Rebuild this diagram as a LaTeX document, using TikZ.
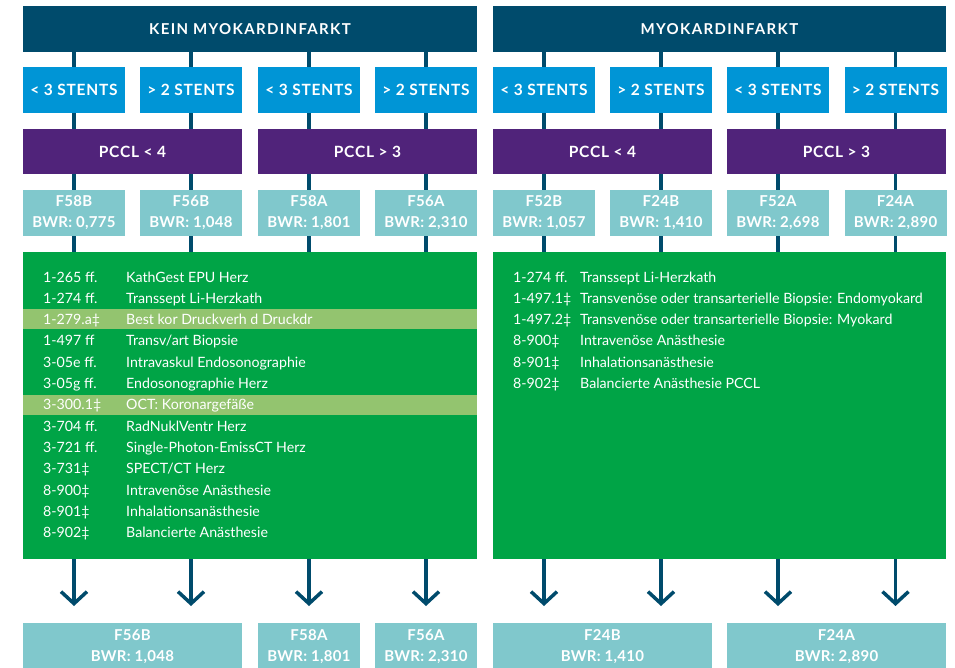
\documentclass[tikz,border=0pt]{standalone}
\usepackage{fontspec}
\setmainfont{Lato}
\usetikzlibrary{arrows.meta}
\definecolor{hdr}{HTML}{004B6C}
\definecolor{stent}{HTML}{0095D6}
\definecolor{pccl}{HTML}{50237A}
\definecolor{fbox}{HTML}{80C8CC}
\definecolor{grn}{HTML}{00A446}
\definecolor{hl}{HTML}{93C46F}
\pgfdeclarelayer{bg}
\pgfsetlayers{bg,main}
\tikzset{
  box/.style={inner sep=0pt, outer sep=0pt, text=white, align=center},
  hdrbox/.style={box, fill=hdr, minimum height=46pt, font=\fontsize{15}{17}\selectfont\bfseries\addfontfeature{LetterSpace=9}},
  stentbox/.style={box, fill=stent, minimum width=102pt, minimum height=46pt, font=\fontsize{15.5}{17}\selectfont\bfseries\addfontfeature{LetterSpace=5}},
  pcclbox/.style={box, fill=pccl, minimum width=219pt, minimum height=45pt, font=\fontsize{15.5}{17}\selectfont\bfseries\addfontfeature{LetterSpace=5}},
  fbx/.style={box, fill=fbox, minimum height=46pt, font=\fontsize{15}{21}\selectfont\bfseries\addfontfeature{LetterSpace=2}},
  panel/.style={box, fill=grn},
  band/.style={box, fill=hl, minimum height=20pt},
  code/.style={anchor=base west, inner sep=0pt, text=white, font=\fontsize{14.2}{16}\selectfont},
  conn/.style={draw=hdr, line width=3.5pt},
  arr/.style={conn, -{Straight Barb[length=12pt,width=26pt,line width=3.5pt]}}
}
\begin{document}
\begin{tikzpicture}[x=1pt,y=-1pt]
\useasboundingbox (0,0) rectangle (955,667);
% headers
\node[hdrbox, minimum width=454pt] (hL) at (250,29) {KEIN MYOKARDINFARKT};
\node[hdrbox, minimum width=453pt] (hR) at (719.5,29) {MYOKARDINFARKT};
% stents
\node[stentbox] (s1) at (74,90) {< 3 STENTS};
\node[stentbox] (s2) at (191,90) {> 2 STENTS};
\node[stentbox] (s3) at (309,90) {< 3 STENTS};
\node[stentbox] (s4) at (426,90) {> 2 STENTS};
\node[stentbox] (s5) at (544,90) {< 3 STENTS};
\node[stentbox] (s6) at (661,90) {> 2 STENTS};
\node[stentbox] (s7) at (778,90) {< 3 STENTS};
\node[stentbox] (s8) at (895.5,90) {> 2 STENTS};
% pccl
\node[pcclbox] (p1) at (132.5,151.5) {PCCL < 4};
\node[pcclbox] (p2) at (367.5,151.5) {PCCL > 3};
\node[pcclbox] (p3) at (602.5,151.5) {PCCL < 4};
\node[pcclbox] (p4) at (836.5,151.5) {PCCL > 3};
% F boxes
\node[fbx, minimum width=102pt] (f1) at (74,213) {F58B\\BWR: 0,775};
\node[fbx, minimum width=102pt] (f2) at (191,213) {F56B\\BWR: 1,048};
\node[fbx, minimum width=102pt] (f3) at (309,213) {F58A\\BWR: 1,801};
\node[fbx, minimum width=102pt] (f4) at (426,213) {F56A\\BWR: 2,310};
\node[fbx, minimum width=102pt] (f5) at (544,213) {F52B\\BWR: 1,057};
\node[fbx, minimum width=102pt] (f6) at (661,213) {F24B\\BWR: 1,410};
\node[fbx, minimum width=102pt] (f7) at (778,213) {F52A\\BWR: 2,698};
\node[fbx, minimum width=102pt] (f8) at (895.5,213) {F24A\\BWR: 2,890};
% green panels
\node[panel, minimum width=454pt, minimum height=307pt] (gL) at (250,405.5) {};
\node[panel, minimum width=453pt, minimum height=307pt] (gR) at (719.5,405.5) {};
\node[band, minimum width=454pt] (b1) at (250,319) {};
\node[band, minimum width=454pt] (b2) at (250,405) {};
% left list
\foreach \c/\d [count=\i from 0] in {
  1-265 ff./KathGest EPU Herz,
  1-274 ff./Transsept Li-Herzkath,
  1-279.a‡/Best kor Druckverh d Druckdr,
  1-497 ff/Transv{/}art Biopsie,
  3-05e ff./Intravaskul Endosonographie,
  3-05g ff./Endosonographie Herz,
  3-300.1‡/OCT: Koronargefäße,
  3-704 ff./RadNuklVentr Herz,
  3-721 ff./Single-Photon-EmissCT Herz,
  3-731‡/SPECT{/}CT Herz,
  8-900‡/Intravenöse Anästhesie,
  8-901‡/Inhalationsanästhesie,
  8-902‡/Balancierte Anästhesie}{
  \node[code] (lc\i) at (43,{282+21.33*\i}) {\c};
  \node[code] (ld\i) at (126,{282+21.33*\i}) {\d};
}
% right list
\foreach \c/\d [count=\i from 0] in {
  1-274 ff./Transsept Li-Herzkath,
  1-497.1‡/Transvenöse oder transarterielle Biopsie: Endomyokard,
  1-497.2‡/Transvenöse oder transarterielle Biopsie: Myokard,
  8-900‡/Intravenöse Anästhesie,
  8-901‡/Inhalationsanästhesie,
  8-902‡/Balancierte Anästhesie PCCL}{
  \node[code] (rc\i) at (513,{282+21.33*\i}) {\c};
  \node[code] (rd\i) at (580,{282+21.33*\i}) {\d};
}
% bottom boxes
\node[fbx, minimum width=219pt, minimum height=48pt] (o1) at (132.5,647) {F56B\\BWR: 1,048};
\node[fbx, minimum width=102pt, minimum height=48pt] (o2) at (309,647) {F58A\\BWR: 1,801};
\node[fbx, minimum width=102pt, minimum height=48pt] (o3) at (426,647) {F56A\\BWR: 2,310};
\node[fbx, minimum width=219pt, minimum height=48pt] (o4) at (602.5,647) {F24B\\BWR: 1,410};
\node[fbx, minimum width=219pt, minimum height=48pt] (o5) at (836.5,647) {F24A\\BWR: 2,890};
% connectors
\begin{pgfonlayer}{bg}
\foreach \i in {1,2,3,4}{
  \draw[conn] (hL.south -| s\i) -- (gL.north -| s\i);
}
\foreach \i in {5,6,7,8}{
  \draw[conn] (hR.south -| s\i) -- (gR.north -| s\i);
}
\end{pgfonlayer}
\foreach \i in {1,2,3,4}{
  \coordinate (a\i) at (s\i |- 0,606);
  \draw[arr] (gL.south -| s\i) -- (a\i);
}
\foreach \i in {5,6,7,8}{
  \coordinate (a\i) at (s\i |- 0,606);
  \draw[arr] (gR.south -| s\i) -- (a\i);
}
\end{tikzpicture}
\end{document}
